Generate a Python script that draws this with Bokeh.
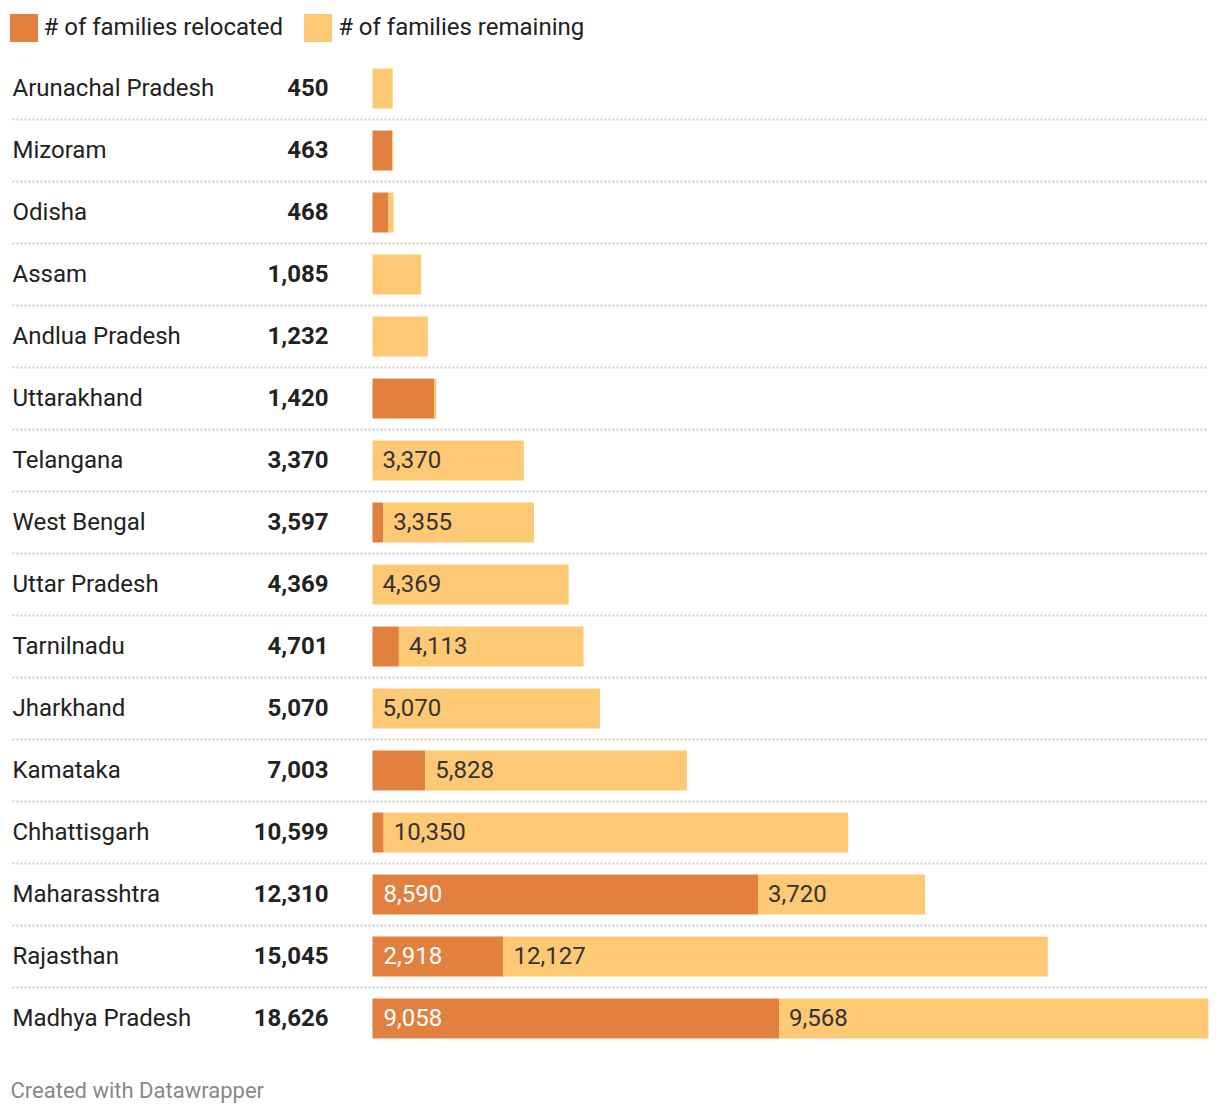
from bokeh.plotting import figure
from bokeh.models import ColumnDataSource, Range1d, Legend, LegendItem, Label
from bokeh.core.properties import value
from bokeh.embed import file_html
from bokeh.resources import INLINE

states = ["Arunachal Pradesh", "Mizoram", "Odisha", "Assam", "Andlua Pradesh",
          "Uttarakhand", "Telangana", "West Bengal", "Uttar Pradesh", "Tarnilnadu",
          "Jharkhand", "Kamataka", "Chhattisgarh", "Maharasshtra", "Rajasthan",
          "Madhya Pradesh"]
relocated = [0, 441, 357, 0, 0, 1375, 0, 242, 0, 588, 0, 1175, 249, 8590, 2918, 9058]
remaining = [450, 22, 111, 1085, 1232, 45, 3370, 3355, 4369, 4113, 5070, 5828,
             10350, 3720, 12127, 9568]

C_REL = "#e1803f"
C_REM = "#fdc975"
FONT = "Roboto"
FS = "24px"

W, H = 1220, 1116
BAR_X0, BAR_X1 = 372, 1208
ROW0, ROW_STEP, BAR_H = 88, 62, 40

totals = [a + b for a, b in zip(relocated, remaining)]
n = len(states)
ys = list(range(n))
vmax = max(totals)
ppu = (BAR_X1 - BAR_X0) / vmax
x_start = -BAR_X0 / ppu
x_end = x_start + W / ppu
y_top = -ROW0 / ROW_STEP
y_bot = y_top + H / ROW_STEP

fmt = lambda v: f"{v:,}"
thr = 2000

src = ColumnDataSource(dict(
    y=ys, state=states, rel=relocated, rem=remaining, tot=totals,
    tot_lbl=[fmt(t) for t in totals],
    zero=[0] * n,
))

p = figure(width=W, height=H, output_backend="svg", toolbar_location=None,
           x_range=Range1d(x_start, x_end), y_range=Range1d(y_bot, y_top),
           min_border=0, x_axis_location=None, y_axis_location=None,
           outline_line_color=None, background_fill_color="white",
           border_fill_color="white")
p.grid.visible = False

# separators
sep_y = [i + 0.5 for i in range(n - 1)]
p.segment(x0=[x_start + 12 / ppu] * len(sep_y), x1=[vmax] * len(sep_y),
          y0=sep_y, y1=sep_y, line_color="#cccccc", line_width=2, line_dash="2 2")

bh = BAR_H / ROW_STEP
r_rel = p.hbar(y="y", left="zero", right="rel", height=bh, source=src,
               fill_color=C_REL, line_color=None)
r_rem = p.hbar(y="y", left="rel", right="tot", height=bh, source=src,
               fill_color=C_REM, line_color=None)

TY = -1
# state names
p.text(x="zero", y="y", text="state", source=src, x_offset=-(BAR_X0 - 12), y_offset=TY,
       text_align="left", text_baseline="middle", text_font=value(FONT),
       text_font_size=FS, text_color="#222222")
# totals
p.text(x="zero", y="y", text="tot_lbl", source=src, x_offset=-(BAR_X0 - 328), y_offset=TY,
       text_align="right", text_baseline="middle", text_font=value(FONT),
       text_font_size=FS, text_font_style="bold", text_color="#222222")

# in-bar labels
rel_idx = [i for i in range(n) if relocated[i] >= thr]
rem_idx = [i for i in range(n) if remaining[i] >= thr]
p.text(x=[0] * len(rel_idx), y=[ys[i] for i in rel_idx],
       text=[fmt(relocated[i]) for i in rel_idx], x_offset=11, y_offset=TY,
       text_align="left", text_baseline="middle", text_font=value(FONT),
       text_font_size=FS, text_color="#ffffff")
p.text(x=[relocated[i] for i in rem_idx], y=[ys[i] for i in rem_idx],
       text=[fmt(remaining[i]) for i in rem_idx], x_offset=10, y_offset=TY,
       text_align="left", text_baseline="middle", text_font=value(FONT),
       text_font_size=FS, text_color="#333333")

legend = Legend(items=[LegendItem(label="# of families relocated", renderers=[r_rel]),
                       LegendItem(label="# of families remaining", renderers=[r_rem])],
                location=(5.5, H - 44.5), orientation="horizontal",
                glyph_width=35, glyph_height=35, label_standoff=3, spacing=17,
                padding=0, margin=0, border_line_color=None, background_fill_alpha=0,
                label_text_font=FONT, label_text_font_size=FS,
                label_text_color="#222222", label_height=35)
p.add_layout(legend, "center")

p.add_layout(Label(x=10, y=H - 1090, x_units="screen", y_units="screen",
                   text="Created with Datawrapper", text_font=FONT,
                   text_font_size="22px", text_color="#888888",
                   text_baseline="middle"))

open("out.html", "w").write(file_html(p, INLINE))
